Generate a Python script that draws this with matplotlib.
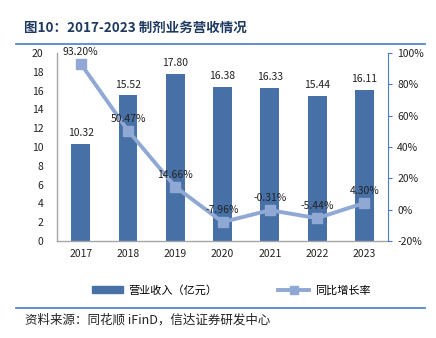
import matplotlib
matplotlib.use('Agg')
import matplotlib.pyplot as plt
from matplotlib.lines import Line2D
from matplotlib.patches import Patch

plt.rcParams['font.family'] = ['Noto Sans CJK SC', 'DejaVu Sans']

# data
years = ['2017', '2018', '2019', '2020', '2021', '2022', '2023']
revenue = [10.32, 15.52, 17.80, 16.38, 16.33, 15.44, 16.11]
growth = [93.20, 50.47, 14.66, -7.96, -0.31, -5.44, 4.30]

bar_color = '#4670A6'
line_color = '#90A8D4'
rule_color = '#4A7BC8'

fig = plt.figure(figsize=(4.36, 3.38), dpi=100)

# title and rules
fig.text(0.055, 0.918, '图10：2017-2023 制剂业务营收情况', fontsize=9.7,
         fontweight='bold', color='#1F3A60', va='center')
fig.add_artist(Line2D([0.037, 0.975], [0.870, 0.870], color=rule_color, lw=1.2))
fig.add_artist(Line2D([0.037, 0.975], [0.089, 0.089], color=rule_color, lw=1.2))
fig.text(0.057, 0.052, '资料来源：同花顺 iFinD，信达证券研发中心', fontsize=9,
         style='italic', color='#222222', va='center')

ax = fig.add_axes([0.131, 0.287, 0.759, 0.556])
x = range(len(years))
ax.bar(x, revenue, width=0.4, color=bar_color, zorder=2)
ax.set_ylim(0, 20)
ax.set_yticks(range(0, 21, 2))
ax.set_xlim(-0.5, 6.5)
ax.set_xticks(list(x))
ax.set_xticklabels(years)
ax.tick_params(axis='both', length=0, labelsize=7.5, colors='#222222')
ax.tick_params(axis='x', pad=6)
ax.tick_params(axis='y', pad=10)
for s in ['top', 'right']:
    ax.spines[s].set_visible(False)
for s in ['left', 'bottom']:
    ax.spines[s].set_color('#A6A6A6')
    ax.spines[s].set_linewidth(1.0)
for i, v in enumerate(revenue):
    ax.text(i, v + 0.6, f'{v:.2f}', ha='center', va='bottom', fontsize=7.5, color='#222222')

ax2 = ax.twinx()
ax2.plot(list(x), growth, color=line_color, lw=2.8, marker='s', markersize=7.5,
         markerfacecolor=line_color, markeredgecolor=line_color, zorder=3)
ax2.set_ylim(-20, 100)
ax2.set_yticks(range(-20, 101, 20))
ax2.set_yticklabels([f'{t}%' for t in range(-20, 101, 20)])
ax2.tick_params(axis='y', length=3, labelsize=7.5, labelcolor='#222222', color=rule_color)
for s in ['top', 'left', 'bottom']:
    ax2.spines[s].set_visible(False)
ax2.spines['right'].set_color(rule_color)
for i, v in enumerate(growth):
    ax2.text(i, v + 4.5, f'{v:.2f}%', ha='center', va='bottom', fontsize=7.5, color='#222222')

# legend
handles = [Patch(color=bar_color, label='营业收入（亿元）'),
           Line2D([], [], color=line_color, lw=2.8, marker='s', markersize=6,
                  label='同比增长率')]
fig.legend(handles=handles, loc='center', bbox_to_anchor=(0.53, 0.142), ncol=2,
           frameon=False, fontsize=8, columnspacing=5.5, handlelength=2.8,
           handleheight=0.5, handletextpad=0.5)

fig.savefig('out.png', dpi=100)
